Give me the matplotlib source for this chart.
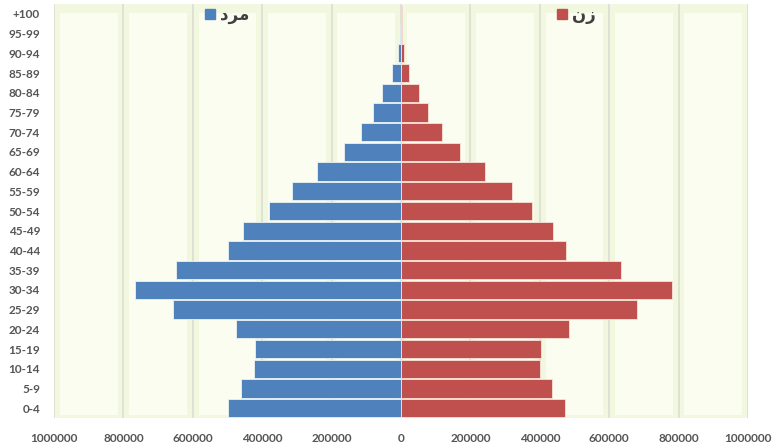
import matplotlib.pyplot as plt
from matplotlib.patches import Patch
from matplotlib.ticker import FuncFormatter

# Age groups, bottom to top
age_groups = ['0-4', '5-9', '10-14', '15-19', '20-24', '25-29', '30-34',
              '35-39', '40-44', '45-49', '50-54', '55-59', '60-64', '65-69',
              '70-74', '75-79', '80-84', '85-89', '90-94', '95-99', '+100']

# Population
male = [498000, 460000, 423000, 420000, 476000, 656000, 766000,
        647000, 500000, 455000, 380000, 314000, 242000, 163000,
        115000, 80000, 55000, 26000, 9000, 2500, 1000]
female = [472000, 435000, 400000, 403000, 484000, 680000, 780000,
          633000, 475000, 437000, 377000, 320000, 242000, 170000,
          118000, 78000, 52000, 24000, 8000, 2500, 1500]

male_label = 'مرد'
female_label = 'زن'

x_ticks = [-1000000, -800000, -600000, -400000, -200000, 0,
           200000, 400000, 600000, 800000, 1000000]

# matplotlib has no Arabic shaping: use presentation forms in visual order
shaped = {
    'مرد': '\uFEA9\uFEAE\uFEE3',
    'زن': '\uFEE5\uFEAF',
}

plt.rcParams['font.family'] = ['Lato', 'DejaVu Sans']

fig = plt.figure(figsize=(7.72, 4.46), dpi=100)
ax = fig.add_axes([54 / 772, 1 - 418 / 446, 694 / 772, 414 / 446])
ax.set_facecolor('#f2f7df')

ypos = list(range(len(age_groups)))

# cell background: lighter interior with a greenish glow near the gridlines
inset = 17000
for left, right in zip(x_ticks[:-1], x_ticks[1:]):
    ax.axvspan(left + inset, right - inset, ymin=0.008, ymax=0.978,
               color='#fafdf0', zorder=0, lw=0)
for xv in x_ticks:
    ax.axvline(xv, color='#d9dbd0', lw=1.1, zorder=0.5)

ax.barh(ypos, [-m for m in male], height=0.93, color='#4F81BD',
        edgecolor='#eaf3f0', linewidth=0.6, zorder=2)
ax.barh(ypos, female, height=0.93, color='#C0504D',
        edgecolor='#f6e4d8', linewidth=0.6, zorder=2)

ax.set_xlim(-1000000, 1000000)
ax.set_ylim(-0.5, len(age_groups) - 0.5)
ax.set_xticks(x_ticks)
ax.xaxis.set_major_formatter(FuncFormatter(lambda v, p: f'{abs(int(v))}'))
ax.set_yticks(ypos)
ax.set_yticklabels(age_groups)
ax.tick_params(axis='both', length=0, labelsize=8.5, labelcolor='#555555')
ax.tick_params(axis='y', pad=10)
ax.tick_params(axis='x', pad=11)
for lbl in ax.get_xticklabels() + ax.get_yticklabels():
    lbl.set_fontweight('bold')
for s in ax.spines.values():
    s.set_visible(False)

# two separate legend entries, as in the original
legend_font = {'family': 'DejaVu Sans', 'size': 12, 'weight': 'bold'}
leg_m = fig.legend(handles=[Patch(color='#4F81BD')], labels=[shaped[male_label]],
                   loc='center left', bbox_to_anchor=(205 / 772, 1 - 15 / 446),
                   frameon=False, borderpad=0, borderaxespad=0,
                   handlelength=0.6, handleheight=0.6, handletextpad=0.3,
                   prop=legend_font)
leg_f = fig.legend(handles=[Patch(color='#C0504D')], labels=[shaped[female_label]],
                   loc='center left', bbox_to_anchor=(557 / 772, 1 - 15 / 446),
                   frameon=False, borderpad=0, borderaxespad=0,
                   handlelength=0.6, handleheight=0.6, handletextpad=0.3,
                   prop=legend_font)
for leg in (leg_m, leg_f):
    for t in leg.get_texts():
        t.set_color('#404040')

fig.savefig('out.png', dpi=100, facecolor='white')
